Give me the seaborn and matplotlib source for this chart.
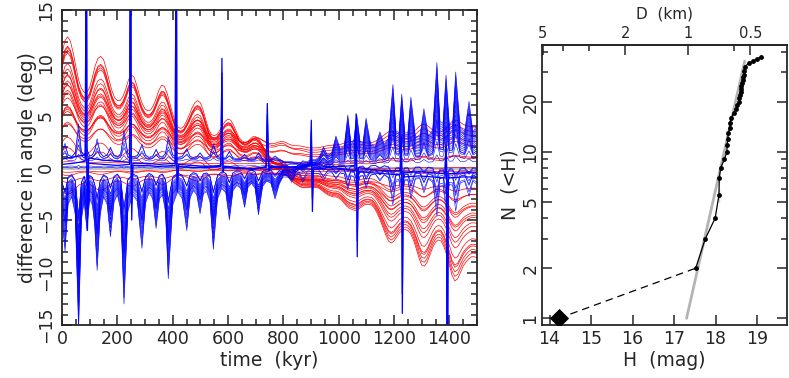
import numpy as np
import pandas as pd
import matplotlib
matplotlib.use('Agg')
import matplotlib.pyplot as plt
import seaborn as sns
from matplotlib.ticker import MultipleLocator, FixedLocator, NullFormatter, FixedFormatter

# ---- left panel: angle differences vs time ----
# red family: early shape (top line) and late shape (bottom line), 10 kyr steps
red_t = np.arange(0, 1501, 10)
red_early = [11.0, 12.3, 12.7, 12.3, 11.2, 9.8, 8.5, 7.7, 7.3, 7.3,
             7.8, 8.8, 9.9, 10.6, 10.8, 10.5, 9.6, 8.5, 7.5, 6.8,
             6.5, 6.5, 6.9, 7.6, 8.5, 9.0, 8.8, 8.0, 7.0, 6.2,
             5.7, 5.5, 5.6, 6.0, 6.7, 7.5, 8.0, 7.9, 7.2, 6.2,
             5.2, 4.4, 3.9, 3.8, 4.0, 4.5, 5.1, 5.8, 6.3, 6.5,
             6.3, 5.6, 4.6, 3.7, 3.2, 3.1, 3.2, 3.6, 4.1, 4.5,
             4.7, 4.6, 4.1, 3.5, 2.9, 2.6, 2.5, 2.6, 2.9, 3.2,
             3.3, 3.2, 2.9, 2.5, 2.1, 1.8, 1.6, 1.6, 1.7, 1.8,
             1.7, 1.4, 1.0, 0.7, 0.5, 0.4, 0.3, 0.2, 0.1, 0.0] + [0.0] * 61
red_late = [0.0] * 65 + [
    0.0, -0.05, -0.1, -0.15, -0.2, -0.3, -0.4, -0.5, -0.6, -0.7,
    -0.8, -0.95, -1.1, -1.3, -1.4, -1.5, -1.6, -1.7, -1.8, -1.9,
    -2.0, -2.1, -2.1, -2.0, -1.9, -1.9, -1.9, -1.9, -2.0, -2.2,
    -2.4, -2.6, -2.7, -2.8, -2.8, -2.9, -3.1, -3.4, -3.7, -3.9,
    -4.0, -4.1, -4.0, -3.8, -3.6, -3.5, -3.5, -3.6, -3.9, -4.4,
    -5.0, -5.7, -6.4, -7.0, -7.2, -7.0, -6.6, -6.2, -6.0, -5.9,
    -6.0, -6.3, -6.9, -7.7, -8.6, -9.3, -9.4, -9.0, -8.3, -7.6,
    -7.1, -6.9, -7.0, -7.5, -8.3, -9.3, -10.3, -10.8, -10.6, -10.0,
    -9.4, -9.0, -8.7, -8.5, -8.5, -8.6]
# weight of each red line on the early / late shape, plus offset
red_a = [0.98, 0.91, 0.90, 0.88, 0.86, 0.78, 0.74, 0.70, 0.69, 0.65, 0.62, 0.60, 0.58,
         0.50, 0.46, 0.34, 0.29, 0.22, 0.42, 0.33, 0.54, 0.26, 0.38, 0.02, -0.02, -0.06, -0.08, -0.20]
red_b = [1.0, 0.92, 0.88, 0.62, 0.86, 0.80, 0.44, 0.66, 0.71, 0.96, 0.51, 0.48, 0.56,
         0.36, 0.30, 0.40, 0.21, 0.125, -0.30, -0.27, -0.24, -0.19, -0.16, -0.08, -0.02, 0.06, 0.0, -0.10]
red_d = [0, 0, 0, 0, 0, 0, 0, 0, 0, 0, 0, -0.5, 0,
         -0.6, 0, 0, -0.8, -0.9, 1.3, 1.15, 1.0, 0.85, 0.75, 0.3, -0.2, 0, -0.4, 0]

# blue family: cusped early shape (bottom line) and late shape (top line)
blue_t = [0, 11, 22, 35, 48, 60, 70, 80, 90, 100, 110, 118, 127, 138, 150, 163, 175, 188, 200, 212,
          224, 238, 255, 272, 289, 302, 315, 328, 340, 352, 363, 374, 384, 400, 418, 435, 451, 463, 475, 487,
          499, 511, 523, 535, 547, 562, 577, 592, 605, 618, 632, 646, 660, 672, 685, 698, 710, 725, 740, 755,
          770, 785, 800, 815, 830, 845, 858, 870, 885, 900, 915, 930, 945, 960, 975, 990, 1005, 1020, 1033, 1044,
          1055, 1065, 1077, 1088, 1099, 1115, 1132, 1149, 1165, 1180, 1196, 1207, 1218, 1228, 1239, 1250, 1261, 1277,
          1293, 1308, 1324, 1340, 1355, 1366, 1377, 1388, 1400, 1412, 1423, 1439, 1455, 1471, 1485, 1500]
blue_early = [-5.0, -8.0, -3.5, -2.8, -4.5, -15.5, -5.0, -3.2, -6.0, -3.0,
              -3.6, -5.5, -9.8, -4.5, -2.8, -3.5, -6.6, -3.3, -2.6, -4.0,
              -13.0, -4.2, -2.6, -3.2, -7.7, -3.4, -2.4, -3.0, -5.8, -3.0,
              -2.6, -4.2, -10.6, -3.6, -2.3, -3.0, -6.0, -2.9, -2.2, -2.6,
              -4.4, -2.5, -2.3, -3.3, -7.8, -3.0, -2.0, -2.4, -5.0, -2.2,
              -1.7, -2.0, -3.8, -1.9, -1.5, -2.0, -4.5, -1.8, -1.3, -1.5,
              -3.0, -1.6, -1.5, -1.6, -2.8, -1.4, -1.2, -2.2, -1.0, -0.8,
              -0.7, -0.6, -1.0, -0.4, -0.2] + [0.0] * 39
blue_late = [0.0] * 62 + [
    0.8, 0.9, 1.8, 1.1, 1.2, 2.3, 1.3, 1.4, 1.3, 1.5,
    2.8, 1.5, 1.6, 3.0, 1.8, 2.0, 5.0, 2.4, 2.6, 5.1,
    2.5, 2.4, 4.7, 2.3, 2.0, 3.4, 2.2, 2.8, 7.9, 3.5,
    3.3, 7.0, 3.3, 3.3, 6.7, 3.0, 2.9, 5.6, 3.0, 3.6,
    10.0, 4.4, 4.2, 8.8, 4.0, 4.2, 9.1, 3.8, 3.4, 6.3,
    3.4, 4.0]
blue_a = [1.0, 0.95, 0.88, 0.82, 0.76, 0.70, 0.66, 0.62, 0.58, 0.54, 0.50, 0.46, 0.42, 0.38,
          0.35, 0.32, 0.29, 0.60, -0.05, -0.10, -0.15, -0.20, -0.25, 0.02, -0.02]
blue_b = [0.90, 1.0, 0.75, 0.85, 0.60, 0.95, 0.70, 0.55, 0.80, 0.65, 0.50, 0.45, 0.40, 0.35,
          -0.30, -0.40, 0.25, 0.50, -0.15, -0.20, -0.50, -0.35, -0.25, 0.10, -0.05]
blue_d = [0, 0, 0, 0, 0, 0, 0, 0, 0, 0, 0, 0, 0, 0,
          0.3, 0.2, 0, -0.4, 0.5, 0.6, 0.4, 0.5, 0.3, 0.2, -0.1]

# near-zero blue lines with the sharp excursions
spike_t = [0, 40, 84, 88, 90, 92, 96, 150, 200, 244, 248, 250, 252, 256, 300, 350, 409, 413, 415, 417,
           421, 470, 520, 574, 578, 580, 582, 586, 640, 690, 738, 742, 745, 748, 752, 800, 850, 897, 901, 903,
           905, 909, 960, 1010, 1059, 1063, 1065, 1067, 1071, 1120, 1170, 1222, 1226, 1228, 1230, 1234, 1290, 1340, 1384, 1388,
           1390, 1392, 1396, 1450, 1500]
spike_v1 = [0.3, 0.4, 0.6, 30, 0, -6.0, 0.4, 0.3, 0.2, 0.3, 30, 0, -5.0, 0.2, 0.2, 0.1, 0.2, 30, 0, -2.3,
            0.1, 0.0, 0.0, 0.1, 10.4, 2.0, -0.4, 0.0, -0.1, -0.1, 0.0, 6.1, 2.0, -0.3, 0.0, 0.0, 0.1, 0.3, 4.5, 0,
            -4.2, 0.0, 0.1, 0.1, 0.2, 5.1, 0, -8.5, 0.0, -0.2, -0.3, -0.3, 3.0, 0, -13.9, -0.5, -0.4, -0.5, -0.6, 3.0,
            0, -30, -0.6, -0.5, -0.5]
spike_v2 = [0.8, 1.0, 1.2, 30, 1.0, -4.0, 0.9, 0.7, 0.6, 0.5, 30, 0.5, -3.5, 0.4, 0.4, 0.3, 0.4, 30, 0.5, -1.5,
            0.3, 0.2, 0.1, 0.2, 9.0, 2.0, 0.0, 0.1, 0.0, -0.2, 0.1, 5.0, 1.5, -0.1, 0.1, 0.1, 0.0, 0.2, 3.5, 0,
            -3.0, -0.2, 0.0, -0.1, -0.3, 4.0, 0, -7.0, -0.4, -0.5, -0.6, -0.7, 2.0, 0, -12.0, -0.9, -0.8, -0.9, -1.0, 2.0,
            0, -30, -1.0, -0.9, -0.9]

# ---- right panel: cumulative distribution ----
H_obs = [17.52, 17.75, 17.99, 18.08, 18.08, 18.09, 18.12, 18.21, 18.27, 18.28, 18.29, 18.31, 18.34, 18.35, 18.37,
         18.44, 18.48, 18.52, 18.56, 18.57, 18.58, 18.60, 18.61, 18.62, 18.64, 18.66, 18.67, 18.68, 18.69, 18.69,
         18.70, 18.70, 18.80, 18.90, 18.99, 19.10]
N_obs = list(range(2, 38))
H_big, N_big = 14.22, 1
H_fit = [17.30, 18.70]
N_fit = [1.0, 35.0]
D_ticks = [5, 2, 1, 0.5]


def make_lines(t, early, late, a_list, b_list, d_list, prefix):
    early = np.array(early)
    late = np.array(late)
    parts = []
    for i, (a, b, d) in enumerate(zip(a_list, b_list, d_list)):
        parts.append(pd.DataFrame({'time': t, 'angle': a * early + b * late + d, 'line': f'{prefix}{i}'}))
    return pd.concat(parts, ignore_index=True)


red_df = make_lines(red_t, red_early, red_late, red_a, red_b, red_d, 'r')
blue_df = make_lines(np.array(blue_t), blue_early, blue_late, blue_a, blue_b, blue_d, 'b')
spike_df = pd.concat([pd.DataFrame({'time': spike_t, 'angle': v, 'line': f's{i}'})
                      for i, v in enumerate([spike_v1, spike_v2])], ignore_index=True)

sns.set_style('ticks')
plt.rcParams['font.family'] = ['DejaVu Sans']
plt.rcParams['axes.linewidth'] = 1.3

fig = plt.figure(figsize=(7.89, 3.78), dpi=100)
ax1 = fig.add_axes([0.0786, 0.1402, 0.526, 0.8333])
ax2 = fig.add_axes([0.687, 0.1402, 0.3105, 0.7407])

ax1.axhline(0, color='#c0c0c0', lw=2, zorder=1)
sns.lineplot(data=red_df, x='time', y='angle', units='line', estimator=None, sort=False,
             color='#ff0000', lw=0.5, ax=ax1)
sns.lineplot(data=blue_df, x='time', y='angle', units='line', estimator=None, sort=False,
             color='#0000ff', lw=0.4, ax=ax1)
sns.lineplot(data=spike_df, x='time', y='angle', units='line', estimator=None, sort=False,
             color='#0000ff', lw=0.9, ax=ax1)

ax1.set_xlim(0, 1500)
ax1.set_ylim(-15, 15)
ax1.xaxis.set_major_locator(MultipleLocator(200))
ax1.xaxis.set_minor_locator(MultipleLocator(50))
ax1.yaxis.set_major_locator(MultipleLocator(5))
ax1.yaxis.set_minor_locator(MultipleLocator(1))
ax1.tick_params(which='both', direction='in', top=True, right=True, width=1.1)
ax1.tick_params(which='major', length=7, labelsize=12.5)
ax1.tick_params(which='minor', length=4)
ax1.tick_params(axis='y', labelrotation=90, pad=5)
for lab in ax1.get_yticklabels():
    lab.set_va('center')
ax1.set_xlabel('time  (kyr)', fontsize=13.5, labelpad=2)
ax1.set_ylabel('difference in angle (deg)', fontsize=13.5, labelpad=0)

# right panel
sns.lineplot(x=H_fit, y=N_fit, color='#b4b4b4', lw=2, ax=ax2)
sns.lineplot(x=[H_big, H_obs[0]], y=[N_big, N_obs[0]], color='black', lw=0.9, ax=ax2,
             linestyle=(0, (6, 4)))
sns.lineplot(x=H_obs, y=N_obs, color='black', lw=0.9, sort=False, marker='o', markersize=3.5,
             markeredgewidth=0, ax=ax2)
sns.scatterplot(x=[H_big], y=[N_big], marker='D', s=95, color='black', linewidth=0, ax=ax2, zorder=5)

ax2.set_yscale('log')
ax2.set_xlim(13.82, 19.72)
ax2.set_ylim(0.912, 43.8)
ax2.yaxis.set_major_locator(FixedLocator([1, 2, 5, 10, 20]))
ax2.yaxis.set_major_formatter(FixedFormatter(['1', '2', '5', '10', '20']))
ax2.yaxis.set_minor_locator(FixedLocator([3, 4, 6, 7, 8, 9, 30, 40]))
ax2.yaxis.set_minor_formatter(NullFormatter())
ax2.xaxis.set_major_locator(MultipleLocator(1))
ax2.tick_params(which='both', direction='in', right=True, width=1.1)
ax2.tick_params(which='major', length=7, labelsize=12.5)
ax2.tick_params(which='minor', length=4)
ax2.tick_params(axis='y', labelrotation=90, pad=2)
for lab in ax2.get_yticklabels():
    lab.set_va('center')
ax2.set_xlabel('H  (mag)', fontsize=13.5, labelpad=2)
ax2.set_ylabel('N  (<H)', fontsize=13.5, labelpad=1)

sec = ax2.secondary_xaxis('top', functions=(lambda h: 10 ** ((17.33 - h) / 5.0),
                                            lambda d: 17.33 - 5.0 * np.log10(np.clip(d, 1e-6, None))))
sec.set_xticks(D_ticks)
sec.set_xticklabels([str(d) for d in D_ticks])
sec.xaxis.set_minor_locator(FixedLocator([4, 3, 0.6]))
sec.xaxis.set_minor_formatter(NullFormatter())
sec.tick_params(which='both', direction='in', width=1.1)
sec.tick_params(which='major', length=7, labelsize=10.5, pad=3)
sec.tick_params(which='minor', length=4)
sec.set_xlabel('D  (km)', fontsize=11, labelpad=5)

fig.savefig('out.png', dpi=100)
